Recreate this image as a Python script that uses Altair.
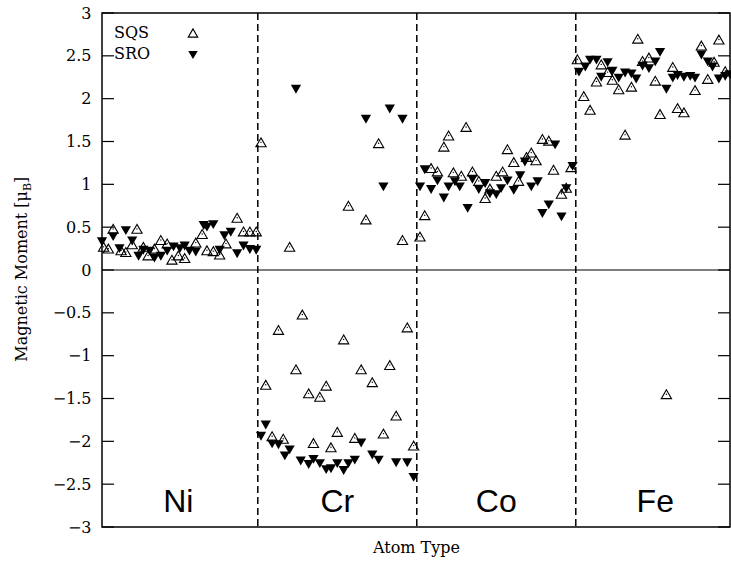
import altair as alt
import pandas as pd

ELEMENTS = ["Ni", "Cr", "Co", "Fe"]
SERIES = ["SQS", "SRO"]
Y_TICKS = [-3, -2.5, -2, -1.5, -1, -0.5, 0, 0.5, 1, 1.5, 2, 2.5, 3]
DIVIDERS = [1, 2, 3]

# position of each atom inside its atom-type block (0..1) and its moment (muB)
ni_sqs_pos = [0.03, 0.06, 0.09, 0.14, 0.17, 0.21, 0.24, 0.28, 0.31, 0.35, 0.39, 0.43, 0.46,
              0.50, 0.54, 0.61, 0.65, 0.68, 0.72, 0.76, 0.80, 0.87, 0.91, 0.95, 0.99]
ni_sqs_val = [0.27, 0.25, 0.48, 0.23, 0.21, 0.30, 0.48, 0.27, 0.17, 0.25, 0.35, 0.31, 0.12,
              0.17, 0.14, 0.32, 0.42, 0.23, 0.22, 0.18, 0.31, 0.61, 0.45, 0.45, 0.45]
ni_sro_pos = [0.02, 0.09, 0.13, 0.17, 0.21, 0.25, 0.28, 0.32, 0.35, 0.39, 0.43, 0.47, 0.51,
              0.54, 0.57, 0.61, 0.66, 0.68, 0.72, 0.76, 0.79, 0.83, 0.87, 0.91, 0.95, 0.99]
ni_sro_val = [0.33, 0.39, 0.25, 0.46, 0.34, 0.16, 0.23, 0.22, 0.14, 0.16, 0.22, 0.27, 0.25,
              0.28, 0.22, 0.21, 0.52, 0.50, 0.53, 0.23, 0.40, 0.44, 0.19, 0.28, 0.24, 0.23]

cr_sqs_pos = [0.02, 0.05, 0.09, 0.13, 0.16, 0.20, 0.24, 0.28, 0.32, 0.35, 0.39, 0.43, 0.46, 0.50,
              0.54, 0.57, 0.61, 0.65, 0.68, 0.72, 0.76, 0.79, 0.83, 0.87, 0.91, 0.94, 0.98]
cr_sqs_val = [1.49, -1.34, -1.94, -0.70, -1.97, 0.27, -1.16, -0.52, -1.44, -2.02, -1.48, -1.35,
              -2.07, -1.89, -0.81, 0.75, -1.96, -1.16, 0.59, -1.31, 1.48, -1.91, -1.11, -1.70,
              0.35, -0.67, -2.05]
cr_sro_pos = [0.02, 0.05, 0.09, 0.13, 0.17, 0.20, 0.24, 0.27, 0.32, 0.35, 0.39, 0.43, 0.46, 0.50,
              0.54, 0.57, 0.61, 0.65, 0.68, 0.72, 0.76, 0.79, 0.83, 0.87, 0.91, 0.94, 0.98]
cr_sro_val = [-1.94, -1.81, -2.03, -2.04, -2.17, -2.10, 2.11, -2.23, -2.27, -2.21, -2.26, -2.33,
              -2.32, -2.26, -2.34, -2.26, -2.22, -2.02, 1.76, -2.16, -2.22, 0.97, 1.88, -2.25,
              1.76, -2.25, -2.42]

co_sqs_pos = [0.02, 0.05, 0.09, 0.13, 0.17, 0.20, 0.23, 0.28, 0.31, 0.35, 0.39, 0.43, 0.46, 0.50,
              0.54, 0.57, 0.61, 0.64, 0.69, 0.72, 0.75, 0.79, 0.83, 0.86, 0.91, 0.94, 0.97]
co_sqs_val = [0.39, 0.64, 1.19, 1.15, 1.44, 1.57, 1.14, 1.10, 1.67, 1.15, 1.04, 0.84, 0.95, 1.10,
              1.15, 1.41, 1.26, 1.04, 1.32, 1.37, 1.28, 1.53, 1.51, 1.17, 0.89, 0.96, 1.20]
co_sro_pos = [0.02, 0.05, 0.09, 0.13, 0.17, 0.20, 0.24, 0.27, 0.32, 0.35, 0.39, 0.43, 0.46, 0.50,
              0.53, 0.57, 0.61, 0.65, 0.68, 0.72, 0.76, 0.79, 0.83, 0.87, 0.91, 0.94, 0.98]
co_sro_val = [0.97, 1.17, 0.94, 1.04, 0.84, 0.97, 1.03, 0.97, 0.72, 1.06, 0.94, 1.01, 0.89, 0.88,
              0.95, 1.04, 0.93, 1.10, 1.26, 0.97, 1.03, 0.66, 0.76, 1.46, 0.62, 0.95, 1.21]

fe_sqs_pos = [0.01, 0.05, 0.09, 0.13, 0.16, 0.20, 0.23, 0.27, 0.31, 0.35, 0.39, 0.42, 0.46,
              0.50, 0.53, 0.57, 0.61, 0.64, 0.68, 0.75, 0.79, 0.83, 0.87, 0.90, 0.94]
fe_sqs_val = [2.46, 2.03, 1.87, 2.20, 2.40, 2.31, 2.22, 2.11, 1.58, 2.14, 2.70, 2.44, 2.48,
              2.21, 1.82, -1.45, 2.37, 1.89, 1.84, 2.10, 2.62, 2.23, 2.43, 2.69, 2.32]
fe_sro_pos = [0.02, 0.06, 0.09, 0.13, 0.16, 0.20, 0.23, 0.27, 0.31, 0.35, 0.38, 0.42, 0.46, 0.50,
              0.53, 0.57, 0.61, 0.64, 0.68, 0.72, 0.75, 0.79, 0.83, 0.86, 0.90, 0.94, 0.97]
fe_sro_val = [2.31, 2.37, 2.45, 2.45, 2.25, 2.42, 2.32, 2.24, 2.30, 2.29, 2.23, 2.38, 2.35, 2.43,
              2.54, 2.11, 2.24, 2.27, 2.25, 2.26, 2.24, 2.51, 2.43, 2.37, 2.23, 2.26, 2.28]

blocks = {
    ("Ni", "SQS"): (ni_sqs_pos, ni_sqs_val), ("Ni", "SRO"): (ni_sro_pos, ni_sro_val),
    ("Cr", "SQS"): (cr_sqs_pos, cr_sqs_val), ("Cr", "SRO"): (cr_sro_pos, cr_sro_val),
    ("Co", "SQS"): (co_sqs_pos, co_sqs_val), ("Co", "SRO"): (co_sro_pos, co_sro_val),
    ("Fe", "SQS"): (fe_sqs_pos, fe_sqs_val), ("Fe", "SRO"): (fe_sro_pos, fe_sro_val),
}
rows = []
for (el, ser), (pos, val) in blocks.items():
    base = ELEMENTS.index(el)
    for p, v in zip(pos, val):
        rows.append({"x": base + p, "m": v, "series": ser, "element": el})
pts = pd.DataFrame(rows)
sqs = pts[pts.series == "SQS"]
sro = pts[pts.series == "SRO"]

SERIF = "DejaVu Serif"
SANS = "Liberation Sans"

xscale = alt.Scale(domain=[0.02, 3.97], nice=False, zero=False)
yscale = alt.Scale(domain=[-3, 3], nice=False, zero=False)
yaxis = alt.Axis(values=Y_TICKS, format="~g", ticks=False, domain=False, grid=False,
                 labelPadding=11, labelFont=SERIF, labelFontSize=16, labelColor="black",
                 title=None)
xaxis = alt.Axis(labels=False, ticks=False, domain=False, grid=False, title="Atom Type",
                 titleFont=SERIF, titleFontSize=16, titleFontWeight="normal",
                 titleColor="black", titlePadding=12)

X = lambda f: alt.X(f, type="quantitative", scale=xscale, axis=xaxis)
Y = lambda f: alt.Y(f, type="quantitative", scale=yscale, axis=yaxis)

zero_line = alt.Chart(pd.DataFrame({"z": [0]})).mark_rule(color="black", strokeWidth=1.2).encode(
    y=Y("z"))

dividers = alt.Chart(pd.DataFrame({"d": DIVIDERS})).mark_rule(
    color="black", strokeWidth=1.5, strokeDash=[7, 4]).encode(x=X("d"))

tick_df = pd.DataFrame({"t": Y_TICKS})
ticks_left = alt.Chart(tick_df).mark_rule(color="black", strokeWidth=1.2).encode(
    y=Y("t"), x=alt.value(0), x2=alt.value(12))
ticks_right = alt.Chart(tick_df).mark_rule(color="black", strokeWidth=1.2).encode(
    y=Y("t"), x=alt.value(616), x2=alt.value(628))

sro_layer = alt.Chart(sro).mark_point(shape="triangle-down", filled=True, color="black",
                                      size=105, opacity=1).encode(x=X("x"), y=Y("m"))
sqs_layer = alt.Chart(sqs).mark_point(shape="triangle-up", filled=False, color="black",
                                      size=105, strokeWidth=1.1, opacity=1).encode(
    x=X("x"), y=Y("m"))
sqs_dots = alt.Chart(sqs).mark_point(shape="circle", filled=True, color="black", size=2,
                                     opacity=1).encode(x=X("x"), y=Y("m"))

label_df = pd.DataFrame({"el": ELEMENTS, "cx": [i + 0.5 for i in range(4)],
                         "ly": [-2.83] * 4})
region_labels = alt.Chart(label_df).mark_text(font=SANS, fontSize=32, color="black",
                                              align="center", baseline="alphabetic").encode(
    x=X("cx"), y=Y("ly"), text="el:N")

one = pd.DataFrame({"k": [0]})
leg_text_sqs = alt.Chart(one).mark_text(text=SERIES[0], font=SERIF, fontSize=16,
                                        align="left", baseline="middle", color="black").encode(
    x=alt.value(12), y=alt.value(20))
leg_text_sro = alt.Chart(one).mark_text(text=SERIES[1], font=SERIF, fontSize=16,
                                        align="left", baseline="middle", color="black").encode(
    x=alt.value(12), y=alt.value(41))
leg_sym_sqs = alt.Chart(one).mark_point(shape="triangle-up", filled=False, color="black",
                                        size=90, strokeWidth=1.1, opacity=1).encode(
    x=alt.value(91), y=alt.value(20))
leg_sym_sro = alt.Chart(one).mark_point(shape="triangle-down", filled=True, color="black",
                                        size=90, opacity=1).encode(
    x=alt.value(91), y=alt.value(42))

ytitle_main = alt.Chart(one).mark_text(text="Magnetic Moment [μ", font=SERIF, fontSize=16,
                                       angle=270, align="right", baseline="alphabetic",
                                       color="black").encode(
    x=alt.value(-75), y=alt.value(178))
ytitle_sub = alt.Chart(one).mark_text(text="B", font=SERIF, fontSize=11, angle=270,
                                      align="left", baseline="alphabetic", color="black").encode(
    x=alt.value(-71), y=alt.value(178))
ytitle_end = alt.Chart(one).mark_text(text="]", font=SERIF, fontSize=16, angle=270,
                                      align="left", baseline="alphabetic", color="black").encode(
    x=alt.value(-75), y=alt.value(170))

chart = alt.layer(
    zero_line, dividers, ticks_left, ticks_right, sro_layer, sqs_layer, sqs_dots,
    region_labels, leg_text_sqs, leg_text_sro, leg_sym_sqs, leg_sym_sro,
    ytitle_main, ytitle_sub, ytitle_end,
).properties(
    width=628, height=514,
    autosize=alt.AutoSizeParams(type="none"),
    padding={"left": 102, "top": 13, "right": 1, "bottom": 34},
    background="white",
).configure_view(stroke="black", strokeWidth=1.5)

chart.save("out.html", embed_options={"renderer": "svg", "actions": False})
